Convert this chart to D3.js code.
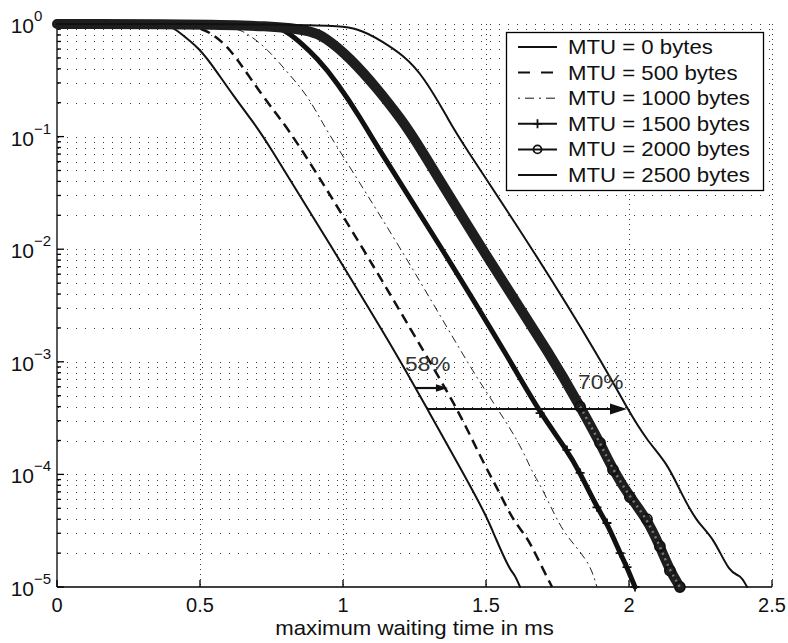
<!DOCTYPE html>
<html><head><meta charset="utf-8">
<script src="https://cdn.jsdelivr.net/npm/d3@7"></script>
<style>
body{margin:0;background:#fff}
svg{display:block;font-family:"Liberation Sans",Arial,Helvetica,sans-serif}
</style>
</head><body>
<svg id="chart" width="788" height="643"></svg>
<script>
// ---------- data ----------
const xTicks = [0, 0.5, 1, 1.5, 2, 2.5];
const xTickLabels = ["0", "0.5", "1", "1.5", "2", "2.5"];
const yTickExponents = [0, -1, -2, -3, -4, -5];
const xLabel = "maximum waiting time in ms";
const seriesNames = ["MTU = 0 bytes", "MTU = 500 bytes", "MTU = 1000 bytes",
                     "MTU = 1500 bytes", "MTU = 2000 bytes", "MTU = 2500 bytes"];

const mtu0 = [[0,1],[0.39,1],[0.413,0.90],[0.50,0.61],[0.559,0.375],[0.615,0.234],
  [0.685,0.135],[0.723,0.10],[0.965,0.010],[1.204,1.0e-3],[1.297,3.7e-4],[1.420,1.03e-4],
  [1.503,4.2e-5],[1.531,2.8e-5],[1.584,1.4e-5],[1.600,1.3e-5],[1.619,1.0e-5]];
const mtu500 = [[0,1],[0.47,1],[0.535,0.85],[0.605,0.61],[0.675,0.33],[0.769,0.155],
  [0.829,0.10],[1.072,0.010],[1.259,1.56e-3],[1.304,1.0e-3],[1.374,4.9e-4],[1.420,3.0e-4],
  [1.503,1.1e-4],[1.538,7.7e-5],[1.594,3.9e-5],[1.643,2.8e-5],[1.678,1.85e-5],[1.731,1.0e-5]];
const mtu1000 = [[0,1],[0.60,1],[0.664,0.83],[0.734,0.61],[0.815,0.35],[0.874,0.234],
  [0.927,0.135],[0.956,0.10],[1.205,0.010],[1.433,1.0e-3],[1.503,5.3e-4],[1.619,1.9e-4],
  [1.664,1.0e-4],[1.689,8.3e-5],[1.759,3.4e-5],[1.804,2.45e-5],[1.864,1.6e-5],[1.888,1.0e-5]];
const mtu1500 = [[0,1],[0.717,1],[0.790,0.92],[0.850,0.69],[0.909,0.50],[0.979,0.305],
  [1.070,0.135],[1.097,0.10],[1.348,0.010],[1.587,1.0e-3],[1.689,3.5e-4],[1.783,1.65e-4],
  [1.829,1.03e-4],[1.888,5.1e-5],[1.923,3.7e-5],[1.969,2.0e-5],[1.993,1.5e-5],[2.021,1.0e-5]];
const mtu2000 = [[0,1],[0.85,1],[0.944,0.75],[1.024,0.50],[1.119,0.27],[1.210,0.135],
  [1.246,0.10],[1.485,0.010],[1.741,1.0e-3],[1.829,4.0e-4],[1.899,1.9e-4],[1.944,1.1e-4],
  [2.003,6.3e-5],[2.063,4.0e-5],[2.108,2.3e-5],[2.143,1.4e-5],[2.178,1.0e-5]];
const mtu2500 = [[0,1],[0.93,1],[1.059,0.92],[1.140,0.69],[1.210,0.53],[1.280,0.35],
  [1.374,0.135],[1.402,0.10],[1.664,0.010],[1.906,1.0e-3],[1.997,3.7e-4],[2.063,2.0e-4],
  [2.133,1.26e-4],[2.178,7.2e-5],[2.238,3.7e-5],[2.294,2.8e-5],[2.353,1.3e-5],[2.388,1.3e-5],
  [2.413,1.0e-5]];

const annotations = [
  {label:"58%", from:[1.252, 5.85e-4], to:[1.367, 5.85e-4], text:[1.217, 8.3e-4], head:12},
  {label:"70%", from:[1.294, 3.81e-4], to:[1.993, 3.81e-4], text:[1.822, 5.75e-4], head:17}
];

// ---------- styles ----------
const seriesData = [mtu0, mtu500, mtu1000, mtu1500, mtu2000, mtu2500];
const styles = [
  {w:2,   dash:null,       color:"#111", marker:null},
  {w:2.5, dash:"10,6",     color:"#111", marker:null},
  {w:1,   dash:"8,4,2,4",  color:"#222", marker:null},
  {w:5,   dash:null,       color:"#111", marker:"plus"},
  {w:10,  dash:null,       color:"#1e1e1e", marker:"circle"},
  {w:2,   dash:null,       color:"#111", marker:null}
];
const legendStyles = [
  {w:2, dash:null}, {w:2, dash:"12,11"}, {w:1, dash:"2,5,9,5"},
  {w:2, dash:null}, {w:2, dash:null}, {w:2, dash:null}
];

const margin = {left:57, top:24, right:16, bottom:56};
const W = 788, H = 643;
const svg = d3.select("#chart");
const x = d3.scaleLinear().domain([0, 2.5]).range([margin.left, W - margin.right]);
const y = d3.scaleLog().domain([1e-5, 1]).range([H - margin.bottom, margin.top]);
const [x0, x1] = x.range();
const [yb, yt] = y.range();

// ---------- grid ----------
const grid = svg.append("g").attr("stroke", "#3a3a3a").attr("stroke-width", 1)
  .attr("stroke-dasharray", "1,8").attr("fill", "none");
const yGridVals = [];
for (let e = -5; e < 0; e++) for (let m = 1; m <= 9; m++) yGridVals.push(m * Math.pow(10, e));
grid.selectAll("line.h").data(yGridVals.filter(v => v > 1e-5)).join("line")
  .attr("x1", x0 + 1).attr("x2", x1)
  .attr("y1", d => Math.round(y(d)) + 0.5).attr("y2", d => Math.round(y(d)) + 0.5);
grid.append("line").attr("x1", x0 + 1).attr("x2", x1).attr("y1", yt + 0.5).attr("y2", yt + 0.5);
grid.selectAll("line.v").data(xTicks.slice(1)).join("line")
  .attr("stroke-dasharray", "1,4")
  .attr("y1", yt).attr("y2", yb)
  .attr("x1", d => Math.round(x(d)) + 0.5).attr("x2", d => Math.round(x(d)) + 0.5);

// ---------- axes ----------
const axes = svg.append("g").attr("stroke", "#000").attr("stroke-width", 1.3);
axes.append("line").attr("x1", x0).attr("x2", x0).attr("y1", yt).attr("y2", yb);
axes.append("line").attr("x1", x0).attr("x2", x1).attr("y1", yb).attr("y2", yb);
axes.selectAll("line.xt").data(xTicks).join("line")
  .attr("x1", d => x(d)).attr("x2", d => x(d)).attr("y1", yb).attr("y2", yb - 7);
const yMinor = yGridVals.filter(v => v > 1e-5 && Math.abs(Math.log10(v) - Math.round(Math.log10(v))) > 1e-6);
axes.selectAll("line.ym").data(yMinor).join("line")
  .attr("x1", x0).attr("x2", x0 + 4).attr("y1", d => y(d)).attr("y2", d => y(d));
axes.selectAll("line.yM").data(yTickExponents).join("line")
  .attr("x1", x0).attr("x2", x0 + 7)
  .attr("y1", d => y(Math.pow(10, d))).attr("y2", d => y(Math.pow(10, d)));

// tick labels
svg.append("g").selectAll("text").data(xTicks).join("text")
  .attr("x", d => x(d)).attr("y", yb + 25).attr("text-anchor", "middle")
  .attr("font-size", 20).attr("fill", "#111").text((d, i) => xTickLabels[i]);
const yl = svg.append("g").attr("fill", "#111");
yTickExponents.forEach(e => {
  const py = y(Math.pow(10, e));
  yl.append("text").attr("x", 34).attr("y", py + 9).attr("text-anchor", "end")
    .attr("font-size", 21).text("10");
  yl.append("text").attr("x", 34).attr("y", py - 3).attr("font-size", 15)
    .text(e === 0 ? "0" : "\u2212" + Math.abs(e));
});
svg.append("text").attr("transform", `translate(${(x0 + x1) / 2},${yb + 48}) scale(1.11,1)`)
  .attr("text-anchor", "middle").attr("font-size", 20).attr("fill", "#111").text(xLabel);

// ---------- series ----------
const line = d3.line().x(d => x(d[0])).y(d => y(d[1])).curve(d3.curveBasis);
const plot = svg.append("g");
seriesData.forEach((data, i) => {
  const s = styles[i];
  plot.append("path").datum(data).attr("d", line).attr("fill", "none")
    .attr("stroke", s.color).attr("stroke-width", s.w)
    .attr("stroke-linejoin", "round").attr("stroke-linecap", s.dash ? "butt" : "round")
    .attr("stroke-dasharray", s.dash);
  if (s.marker === "plus") {
    plot.append("g").attr("stroke", "#111").attr("stroke-width", 1.8)
      .selectAll("path").data(data.filter(d => d[1] < 1e-3)).join("path")
      .attr("d", d => `M${x(d[0]) - 4.5},${y(d[1])}h9M${x(d[0])},${y(d[1]) - 4.5}v9`);
  } else if (s.marker === "circle") {
    plot.append("g").attr("stroke", "#111").attr("stroke-width", 1.8).attr("fill", "none")
      .selectAll("circle").data(data.filter(d => d[1] < 1e-3)).join("circle")
      .attr("cx", d => x(d[0])).attr("cy", d => y(d[1])).attr("r", 5);
    plot.append("path").datum(data.filter(d => d[1] < 1e-3)).attr("d", line).attr("fill", "none")
      .attr("stroke", "#777").attr("stroke-width", 2.5).attr("stroke-dasharray", "2,4");
  }
});

// ---------- annotations ----------
const ann = svg.append("g");
annotations.forEach(a => {
  const ax0 = x(a.from[0]), ax1 = x(a.to[0]), ay = y(a.from[1]);
  ann.append("line").attr("x1", ax0).attr("x2", ax1 - a.head + 1).attr("y1", ay).attr("y2", ay)
    .attr("stroke", "#111").attr("stroke-width", 2.2);
  const hh = a.head * 0.32;
  ann.append("path").attr("d", `M${ax1},${ay}L${ax1 - a.head},${ay - hh}L${ax1 - a.head},${ay + hh}Z`)
    .attr("fill", "#111");
  ann.append("text").attr("transform", `translate(${x(a.text[0])},${y(a.text[1])}) scale(1.08,1)`)
    .attr("font-size", 21).attr("fill", "#333").text(a.label);
});

// ---------- legend ----------
const lg = svg.append("g").attr("transform", "translate(506,32)");
lg.append("rect").attr("x", 0.5).attr("y", 0.5).attr("width", 257).attr("height", 158)
  .attr("fill", "#fff").attr("stroke", "#000").attr("stroke-width", 1.3);
seriesNames.forEach((name, i) => {
  const cy = 15 + i * 25.6;
  const ls = legendStyles[i];
  lg.append("line").attr("x1", 12).attr("x2", 51).attr("y1", cy).attr("y2", cy)
    .attr("stroke", "#111").attr("stroke-width", ls.w).attr("stroke-dasharray", ls.dash);
  if (styles[i].marker === "plus") {
    lg.append("path").attr("d", `M${31.5 - 4.5},${cy}h9M31.5,${cy - 4.5}v9`)
      .attr("stroke", "#111").attr("stroke-width", 1.8);
  } else if (styles[i].marker === "circle") {
    lg.append("circle").attr("cx", 31.5).attr("cy", cy).attr("r", 4)
      .attr("fill", "none").attr("stroke", "#111").attr("stroke-width", 1.8);
  }
  lg.append("text").attr("transform", `translate(62,${cy + 7}) scale(1.11,1)`)
    .attr("font-size", 20).attr("fill", "#111").text(name);
});
</script>
</body></html>
